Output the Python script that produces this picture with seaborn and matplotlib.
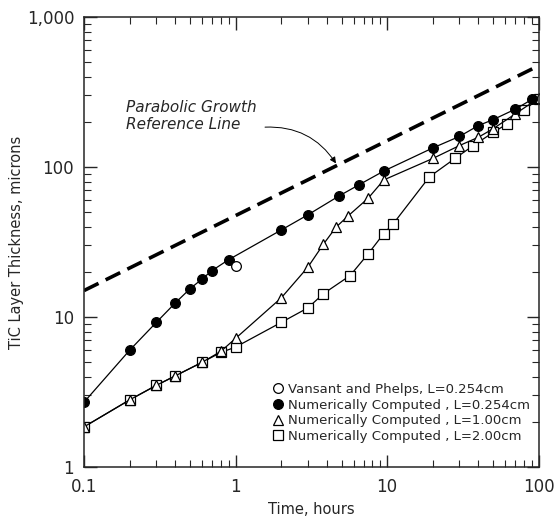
import matplotlib
matplotlib.use("Agg")
import matplotlib.pyplot as plt
from matplotlib.lines import Line2D
import seaborn as sns
import pandas as pd

# time, hours / thickness, microns
t_vansant = [1.0]
y_vansant = [22]

t_l0254 = [0.1, 0.2, 0.3, 0.4, 0.5, 0.6, 0.7, 0.9, 2, 3, 4.8, 6.5, 9.5, 20, 30, 40, 50, 70, 90]
y_l0254 = [2.7, 6.0, 9.2, 12.4, 15.4, 17.9, 20.4, 24.1, 38, 48, 64, 76, 94, 134, 160, 189, 207, 243, 282]

t_l100 = [0.1, 0.2, 0.3, 0.4, 0.6, 0.8, 1, 2, 3, 3.8, 4.6, 5.5, 7.5, 9.5, 20, 30, 40, 50, 70, 100]
y_l100 = [1.85, 2.8, 3.5, 4.05, 4.98, 5.9, 7.2, 13.4, 21.5, 30.6, 39.7, 47, 62, 82, 114, 139, 158, 180, 226, 288]

t_l200 = [0.1, 0.2, 0.3, 0.4, 0.6, 0.8, 1, 2, 3, 3.8, 5.7, 7.5, 9.5, 11, 19, 28, 37, 50, 62, 80, 100]
y_l200 = [1.85, 2.8, 3.5, 4.05, 4.98, 5.8, 6.3, 9.2, 11.5, 14.3, 18.9, 26.4, 36, 42, 86, 114, 139, 170, 194, 239, 286]

# parabolic growth reference line (slope 1/2 on log-log)
t_ref = [0.1, 100]
y_ref = [15, 474]

labels = ["Vansant and Phelps, L=0.254cm",
          "Numerically Computed , L=0.254cm",
          "Numerically Computed , L=1.00cm",
          "Numerically Computed , L=2.00cm"]

sns.set_style("ticks", {"xtick.direction": "in", "ytick.direction": "in"})
plt.rcParams["font.family"] = ["DejaVu Sans"]

fig = plt.figure(figsize=(5.56, 5.16), dpi=100)
ax = fig.add_axes([0.151, 0.095, 0.818, 0.872])
ax.set(xscale="log", yscale="log")

ref = pd.DataFrame({"t": t_ref, "y": y_ref})
sns.lineplot(data=ref, x="t", y="y", ax=ax, color="black", lw=2.6,
             dashes=False, estimator=None)
ax.lines[-1].set_dashes([4.5, 2.2])

mk = dict(markersize=7, markeredgewidth=0.9, markeredgecolor="black")
for t, y, m, fc in [(t_l200, y_l200, "s", "white"),
                    (t_l100, y_l100, "^", "white"),
                    (t_l0254, y_l0254, "o", "black")]:
    d = pd.DataFrame({"t": t, "y": y})
    sns.lineplot(data=d, x="t", y="y", ax=ax, color="black", lw=0.9,
                 estimator=None, sort=False, marker=m, markerfacecolor=fc, **mk)

ax.plot(t_vansant, y_vansant, ls="none", marker="o", markerfacecolor="white", **mk)

ax.set_xlim(0.1, 100)
ax.set_ylim(1, 1000)
ax.set_xticks([0.1, 1, 10, 100], ["0.1", "1", "10", "100"])
ax.set_yticks([1, 10, 100, 1000], ["1", "10", "100", "1,000"])
ax.tick_params(which="both", top=True, right=True, direction="in", labelsize=12)
ax.tick_params(which="major", length=9, width=1)
ax.tick_params(axis="x", which="major", pad=8)
ax.tick_params(axis="y", which="major", pad=7)
ax.tick_params(which="minor", length=5, width=0.8)
for s in ax.spines.values():
    s.set_linewidth(1.1)

ax.set_xlabel("Time, hours", fontsize=10.5, labelpad=4)
ax.set_ylabel("TiC Layer Thickness, microns", fontsize=10.5, labelpad=2)

ax.text(0.19, 218, "Parabolic Growth\nReference Line", fontsize=11,
        style="italic", ha="left", va="center", linespacing=1.15)
ax.annotate("", xy=(4.7, 102), xytext=(1.5, 184),
            arrowprops=dict(arrowstyle="-|>", lw=0.7, color="black",
                            connectionstyle="arc3,rad=-0.3", mutation_scale=9))

handles = [Line2D([], [], ls="none", marker="o", markerfacecolor="white", **mk),
           Line2D([], [], ls="none", marker="o", markerfacecolor="black", **mk),
           Line2D([], [], ls="none", marker="^", markerfacecolor="white", **mk),
           Line2D([], [], ls="none", marker="s", markerfacecolor="white", **mk)]
ax.legend(handles, labels, loc="lower right", frameon=False, fontsize=9.5,
          handlelength=0.8, handletextpad=0.3, labelspacing=0.2,
          borderaxespad=0.3, bbox_to_anchor=(1.0, 0.033))

fig.savefig("out.png", dpi=100)
